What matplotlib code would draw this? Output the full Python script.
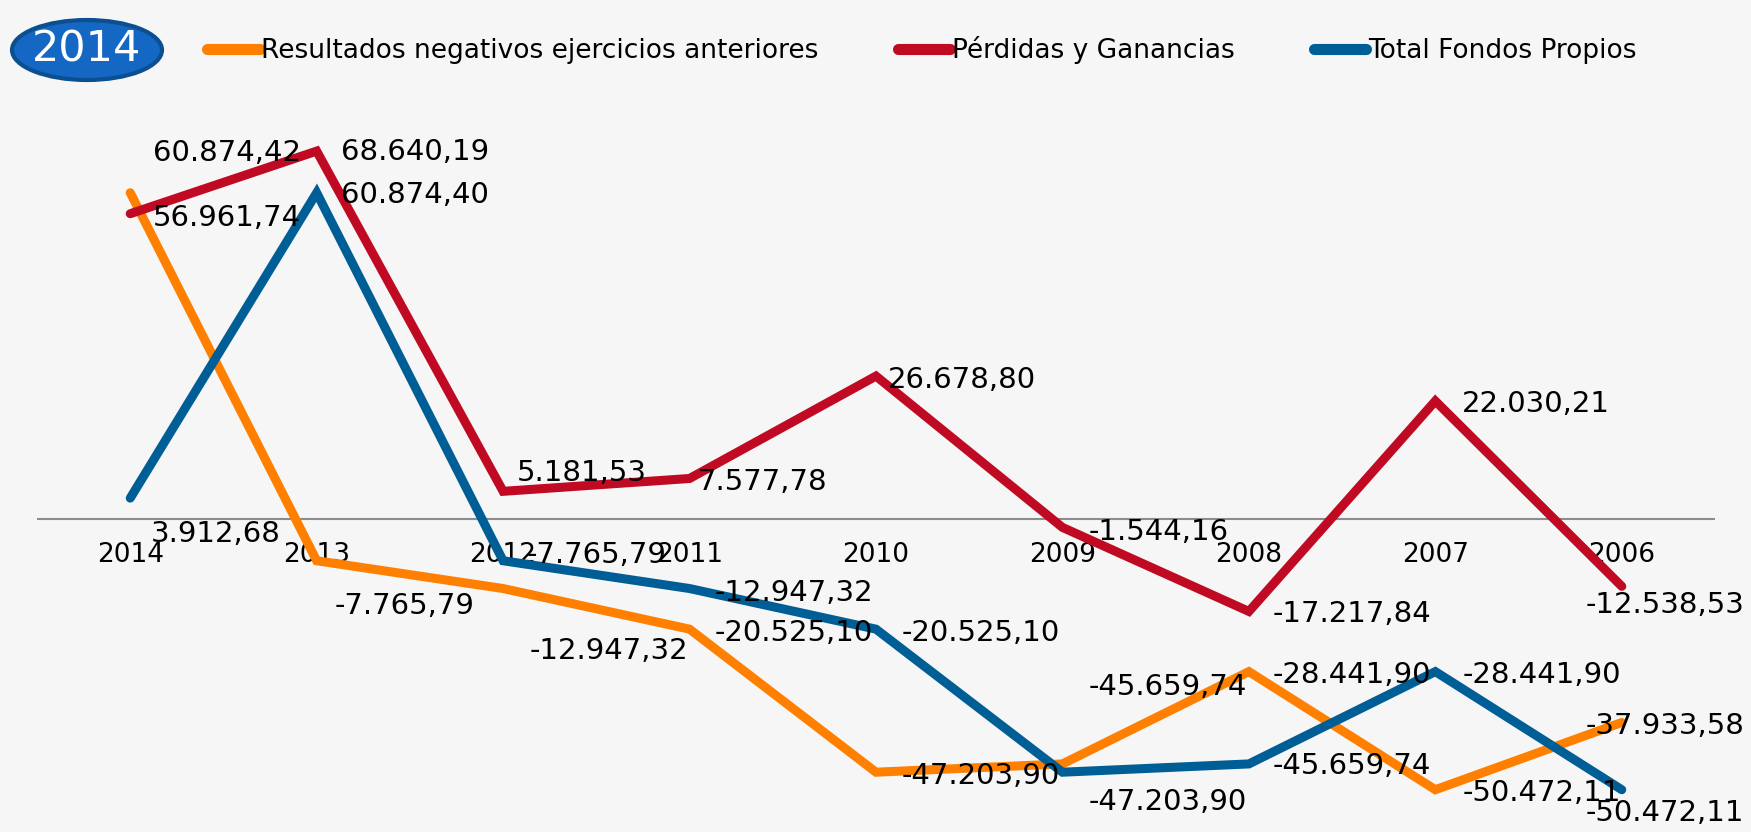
import numpy as np
import matplotlib
matplotlib.use('Agg')
import matplotlib.pyplot as plt
from matplotlib.patches import Ellipse
from matplotlib.lines import Line2D
from matplotlib import font_manager

years = ['2014', '2013', '2012', '2011', '2010', '2009', '2008', '2007', '2006']
resultados_neg = [60874.42, -7765.79, -12947.32, -20525.10, -47203.90, -45659.74, -28441.90, -50472.11, -37933.58]
perdidas_gan = [56961.74, 68640.19, 5181.53, 7577.78, 26678.80, -1544.16, -17217.84, 22030.21, -12538.53]
fondos_propios = [3912.68, 60874.40, -7765.79, -12947.32, -20525.10, -47203.90, -45659.74, -28441.90, -50472.11]

names = ['Resultados negativos ejercicios anteriores', 'Pérdidas y Ganancias', 'Total Fondos Propios']
colors = ['#FF8000', '#C00A23', '#005E96']

# desplazamiento de cada etiqueta (pixeles, x a la derecha, y hacia abajo)
off_res = [(23, -40), (18, 45), (27, 62), (25, 4), (26, 4), (26, -77), (24, 3), (27, 3), (-36, 4)]
off_pyg = [(23, 4), (24, 1), (14, -18), (8, 4), (12, 4), (26, 5), (24, 3), (27, 3), (-36, 19)]
off_tfp = [(21, 36), (24, 2), (24, -6), (25, 4), (26, 4), (26, 30), (24, 2), (27, 3), (-36, 23)]

installed = {f.name for f in font_manager.fontManager.ttflist}
narrow = 'Liberation Sans Narrow' if 'Liberation Sans Narrow' in installed else 'DejaVu Sans'

def fmt(v):
    s = '{:,.2f}'.format(v)
    return s.replace(',', 'X').replace('.', ',').replace('X', '.')

W, H = 1751, 832
fig = plt.figure(figsize=(W/100, H/100), dpi=100, facecolor='#f6f6f6')
ax = fig.add_axes([37/W, 1-814/H, (1715-37)/W, (814-117)/H])
ax.set_facecolor('none')
for s in ax.spines.values():
    s.set_visible(False)
ax.set_xticks([])
ax.set_yticks([])
ax.set_xlim(-0.5, len(years)-0.5)
ax.set_ylim(-55000, 75000)
ax.axhline(0, color='#8c8c8c', lw=1.5, zorder=1)

x = np.arange(len(years))
series = [resultados_neg, perdidas_gan, fondos_propios]
offsets = [off_res, off_pyg, off_tfp]
for vals, c, offs in zip(series, colors, offsets):
    ax.plot(x, vals, color=c, lw=6.5, solid_capstyle='round', solid_joinstyle='miter', zorder=3)
    for xi, v, (dx, dy) in zip(x, vals, offs):
        ax.annotate(fmt(v), (xi, v), xytext=(dx, -dy), textcoords='offset pixels',
                    ha='left', va='center', fontsize=21, color='black', zorder=4)

for xi, y in zip(x, years):
    ax.annotate(y, (xi, 0), xytext=(0, -36), textcoords='offset pixels',
                ha='center', va='center', fontsize=19, color='black', zorder=2)

# globo con el año
badge = Ellipse((87/W, 1-50/H), 150/W, 60/H, transform=fig.transFigure,
                facecolor='#1467C2', edgecolor='#0C4F91', lw=3)
fig.patches.append(badge)
fig.text(87/W, 1-50/H, '2014', ha='center', va='center', color='white',
         fontsize=31, family=[narrow, 'DejaVu Sans'])

handles = [Line2D([], [], color=c, lw=8, solid_capstyle='round') for c in colors]
fig.legend(handles, names, ncol=3, loc='center left', bbox_to_anchor=(207/W, 1-50/H),
           frameon=False, borderpad=0, borderaxespad=0, handlelength=2.0, handletextpad=0.05,
           columnspacing=3.0, fontsize=19)

fig.savefig('out.png', dpi=100, facecolor=fig.get_facecolor())
